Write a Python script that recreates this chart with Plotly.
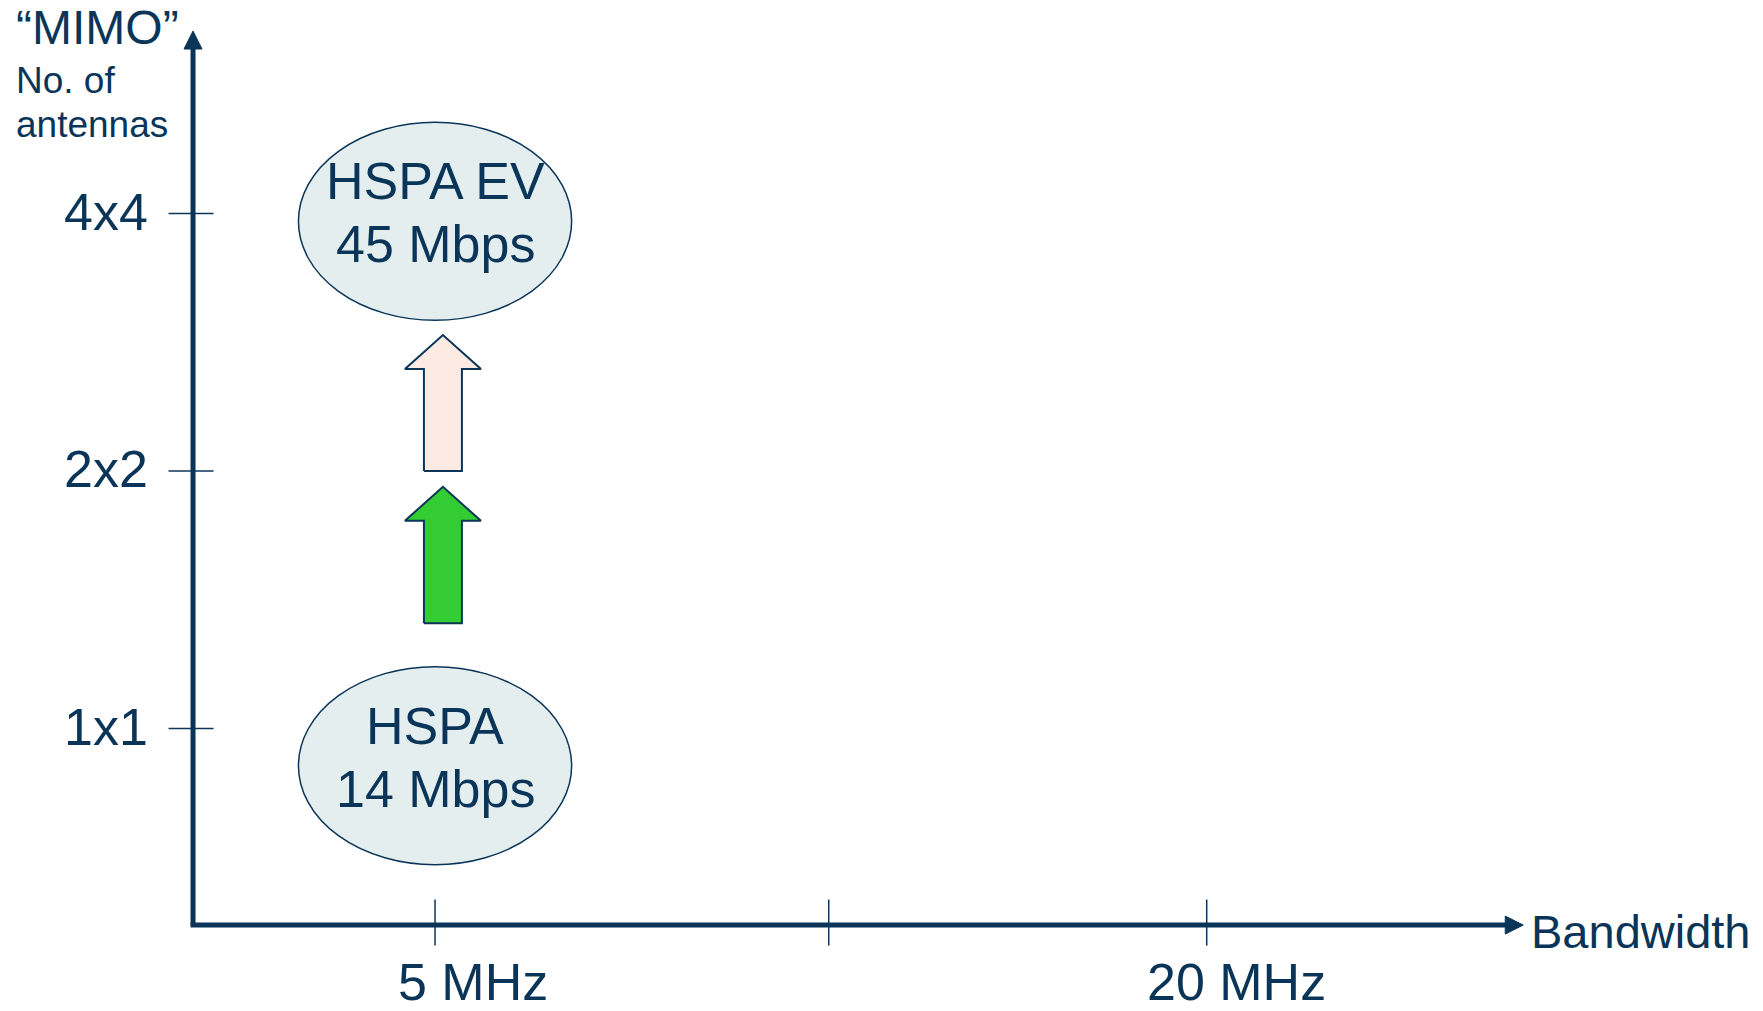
import plotly.graph_objects as go

# ---------------- data ----------------
mimo_levels = [1, 2, 3]
mimo_labels = ["1x1", "2x2", "4x4"]
bw_ticks = [1.0, 2.0, 2.96]
bw_labels = ["5 MHz", "", "20 MHz"]
bw_label_pos = [1.0965, 2.0, 3.035]

tech_names = ["HSPA", "HSPA EV"]
tech_rates = ["14 Mbps", "45 Mbps"]
tech_bw = [1.0, 1.0]
tech_mimo = [0.856, 2.97]

arrow_x = [1.02, 1.02]
arrow_start = [1.409, 2.0]
arrow_end = [1.939, 2.5285]
arrow_fill = ["#33CC33", "#FDEAE2"]

axis_origin = (0.3853, 0.237)
axis_tip = (3.764, 3.709)

# ---------------- style ----------------
NAVY = "#0A3558"
FONT = "Liberation Sans, Arial, sans-serif"
W, H = 1763, 1011
XR = [-0.105, 4.373]
YR = [-0.0967, 3.8295]
px_x = W / (XR[1] - XR[0])   # pixels per x unit
px_y = H / (YR[1] - YR[0])   # pixels per y unit

fig = go.Figure()
shapes = []
annotations = []

ox, oy = axis_origin
tx, ty = axis_tip
head_len_px, head_half_px = 18, 9

# y axis line + arrow head
shapes.append(dict(type="line", x0=ox, y0=oy, x1=ox, y1=ty - head_len_px / px_y + 0.01,
                   line=dict(color=NAVY, width=5)))
hy0 = ty - head_len_px / px_y
hw = head_half_px / px_x
shapes.append(dict(type="path",
                   path=f"M {ox - hw},{hy0} L {ox + hw},{hy0} L {ox},{ty} Z",
                   fillcolor=NAVY, line=dict(color=NAVY, width=1)))
# x axis line + arrow head
shapes.append(dict(type="line", x0=ox - 2.5 / px_x, y0=oy, x1=tx - head_len_px / px_x + 0.01, y1=oy,
                   line=dict(color=NAVY, width=5)))
hx0 = tx - head_len_px / px_x
hh = head_half_px / px_y
shapes.append(dict(type="path",
                   path=f"M {hx0},{oy - hh} L {hx0},{oy + hh} L {tx},{oy} Z",
                   fillcolor=NAVY, line=dict(color=NAVY, width=1)))

# y ticks and labels
for lvl, lab in zip(mimo_levels, mimo_labels):
    shapes.append(dict(type="line", x0=ox - 24.5 / px_x, x1=ox + 20.5 / px_x, y0=lvl, y1=lvl,
                       line=dict(color=NAVY, width=1.5)))
    annotations.append(dict(x=ox - 43.5 / px_x, y=lvl + 2 / px_y, text=lab, showarrow=False,
                            xanchor="right", yanchor="middle",
                            font=dict(family=FONT, size=52, color=NAVY)))

# x ticks and labels
for pos, lab, lpos in zip(bw_ticks, bw_labels, bw_label_pos):
    shapes.append(dict(type="line", x0=pos, x1=pos, y0=oy - 20.5 / px_y, y1=oy + 25.5 / px_y,
                       line=dict(color=NAVY, width=1.5)))
    if lab:
        annotations.append(dict(x=lpos, y=oy - 57 / px_y, text=lab, showarrow=False,
                                xanchor="center", yanchor="middle", borderpad=0,
                                font=dict(family=FONT, size=52, color=NAVY)))

# ellipses with text
rx, ry = 136.6 / px_x, 99 / px_y
for name, rate, bx, my in zip(tech_names, tech_rates, tech_bw, tech_mimo):
    shapes.append(dict(type="circle", x0=bx - rx, x1=bx + rx, y0=my - ry, y1=my + ry,
                       fillcolor="#E4EEEF", line=dict(color=NAVY, width=1.5), layer="below"))
    annotations.append(dict(x=bx, y=my + 40 / px_y, text=name, showarrow=False,
                            xanchor="center", yanchor="middle",
                            font=dict(family=FONT, size=52, color=NAVY)))
    annotations.append(dict(x=bx, y=my - 23 / px_y, text=rate, showarrow=False,
                            xanchor="center", yanchor="middle",
                            font=dict(family=FONT, size=52, color=NAVY)))

# block arrows (as filled traces)
head_half = 38 / px_x
shaft_half = 19 / px_x
head_len = 34 / px_y
for ax_, y0, y1, col in zip(arrow_x, arrow_start, arrow_end, arrow_fill):
    yb = y1 - head_len
    xs = [ax_ - shaft_half, ax_ - shaft_half, ax_ - head_half, ax_, ax_ + head_half,
          ax_ + shaft_half, ax_ + shaft_half, ax_ - shaft_half]
    ys = [y0, yb, yb, y1, yb, yb, y0, y0]
    fig.add_trace(go.Scatter(x=xs, y=ys, mode="lines", fill="toself", fillcolor=col,
                             line=dict(color=NAVY, width=2), hoverinfo="skip",
                             showlegend=False))

# axis titles
annotations.append(dict(x=tx + 6 / px_x, y=oy - 6 / px_y, text="Bandwidth", showarrow=False,
                        xanchor="left", yanchor="middle",
                        font=dict(family=FONT, size=47, color=NAVY)))
left_x = XR[0] + 14 / px_x
annotations.append(dict(x=left_x, y=YR[1] - 27 / px_y, text="\u201cMIMO\u201d", showarrow=False,
                        xanchor="left", yanchor="middle",
                        font=dict(family=FONT, size=48, color=NAVY)))
annotations.append(dict(x=left_x, y=YR[1] - 80 / px_y, text="No. of", showarrow=False,
                        xanchor="left", yanchor="middle",
                        font=dict(family=FONT, size=37, color=NAVY)))
annotations.append(dict(x=left_x, y=YR[1] - 124 / px_y, text="antennas", showarrow=False,
                        xanchor="left", yanchor="middle",
                        font=dict(family=FONT, size=37, color=NAVY)))

fig.update_layout(
    width=W, height=H,
    margin=dict(l=0, r=0, t=0, b=0),
    paper_bgcolor="white", plot_bgcolor="white",
    xaxis=dict(range=XR, visible=False, fixedrange=True),
    yaxis=dict(range=YR, visible=False, fixedrange=True),
    shapes=shapes, annotations=annotations,
    showlegend=False,
)

fig.write_html("out.html", include_plotlyjs=True, config={"displayModeBar": False},
               post_script="document.body.style.margin='0px';document.body.style.overflow='hidden';")
